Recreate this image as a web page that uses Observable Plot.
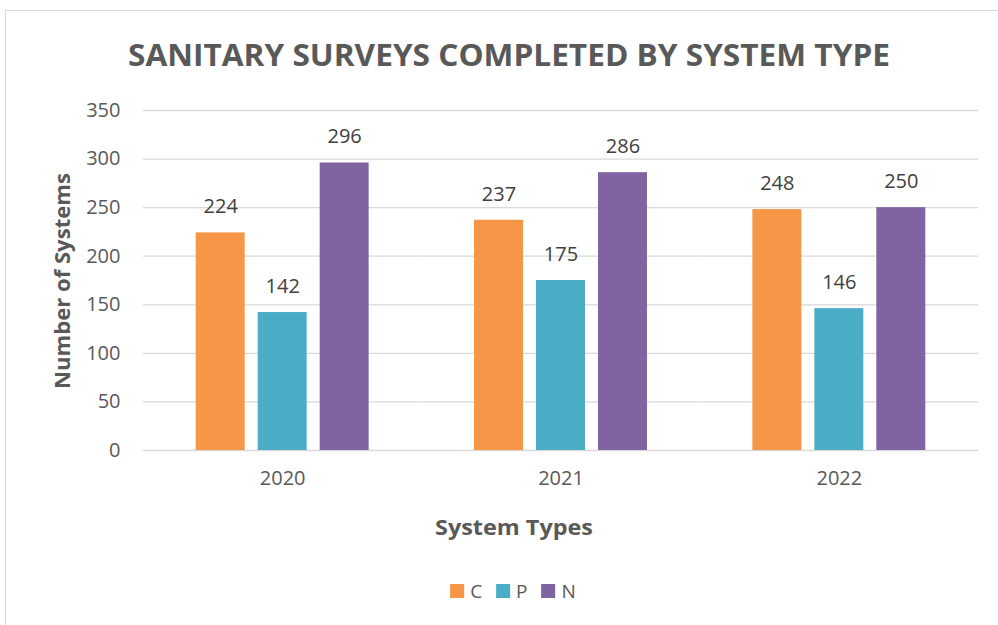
<!DOCTYPE html>
<html><head><meta charset="utf-8">
<script src="https://cdn.jsdelivr.net/npm/d3@7"></script>
<script src="https://cdn.jsdelivr.net/npm/@observablehq/plot@0.6"></script>
<style>
body{margin:0;background:#fff;font-family:"Open Sans",sans-serif;}
#wrap{position:relative;width:998px;height:625px;overflow:hidden;background:#fff;}
#border{position:absolute;left:5px;top:10px;width:1100px;height:800px;border:1px solid #d9d9d9;box-sizing:border-box;}
#chart{position:absolute;left:0;top:0;}
.lbl{position:absolute;white-space:nowrap;color:#595959;font-weight:700;transform:translate(-50%,-50%);}
#title{left:509px;top:54px;font-size:31px;}
#ylab{left:62px;top:281px;font-size:21px;}
#xlab{left:514px;top:527px;font-size:21px;}
#legend{position:absolute;left:513px;top:591px;transform:translate(-50%,-50%);display:flex;align-items:center;font-size:19px;color:#595959;white-space:nowrap;}
.item{display:flex;align-items:center;margin:0 7px;}
.sw{width:14px;height:14px;margin-right:6px;}
</style></head>
<body>
<div id="wrap">
<div id="border"></div>
<div id="chart"></div>
<div id="title" class="lbl">SANITARY SURVEYS COMPLETED BY SYSTEM TYPE</div>
<div id="ylab" class="lbl">Number of Systems</div>
<div id="xlab" class="lbl">System Types</div>
<div id="legend"></div>
</div>
<script>
const years = ["2020", "2021", "2022"];
const types = ["C", "P", "N"];
const valuesC = [224, 237, 248];
const valuesP = [142, 175, 146];
const valuesN = [296, 286, 250];
const colors = ["#F79646", "#4BACC6", "#8064A2"];
const yTicks = [0, 50, 100, 150, 200, 250, 300, 350];

const series = {C: valuesC, P: valuesP, N: valuesN};
const rows = [];
years.forEach((yr, i) => types.forEach(t => rows.push({year: yr, type: t, value: series[t][i]})));

const chart = Plot.plot({
  width: 998, height: 625,
  marginLeft: 143, marginRight: 20, marginTop: 110, marginBottom: 175,
  style: {fontFamily: "Open Sans", fontSize: "20px", color: "#595959", background: "transparent", overflow: "visible"},
  fx: {domain: years, padding: 0, round: false, label: null, tickSize: 0, tickPadding: 20},
  x: {domain: types, axis: null, round: false, paddingInner: 0.21, paddingOuter: 0.85},
  y: {domain: [0, 350], ticks: yTicks, tickSize: 0, tickPadding: 23, label: null},
  color: {domain: types, range: colors},
  marks: [
    Plot.gridY(yTicks, {stroke: "#d9d9d9", strokeOpacity: 1, strokeWidth: 1.3}),
    Plot.barY(rows, {fx: "year", x: "type", y: "value", fill: "type"}),
    Plot.text(rows, {fx: "year", x: "type", y: "value", text: d => String(d.value), dy: -26, fill: "#404040", fontSize: 20})
  ]
});
document.getElementById("chart").appendChild(chart);

const legend = document.getElementById("legend");
types.forEach((t, i) => {
  const it = document.createElement("div"); it.className = "item";
  const sw = document.createElement("div"); sw.className = "sw"; sw.style.background = colors[i];
  const tx = document.createElement("span"); tx.textContent = t;
  it.appendChild(sw); it.appendChild(tx); legend.appendChild(it);
});

function fit(id, target, rot) {
  const el = document.getElementById(id);
  const w = el.getBoundingClientRect().width;
  el.style.transform = `translate(-50%,-50%)${rot ? " rotate(-90deg)" : ""} scaleX(${target / w})`;
}
fit("title", 762, false);
fit("ylab", 216, true);
fit("xlab", 158, false);
</script>
</body></html>
